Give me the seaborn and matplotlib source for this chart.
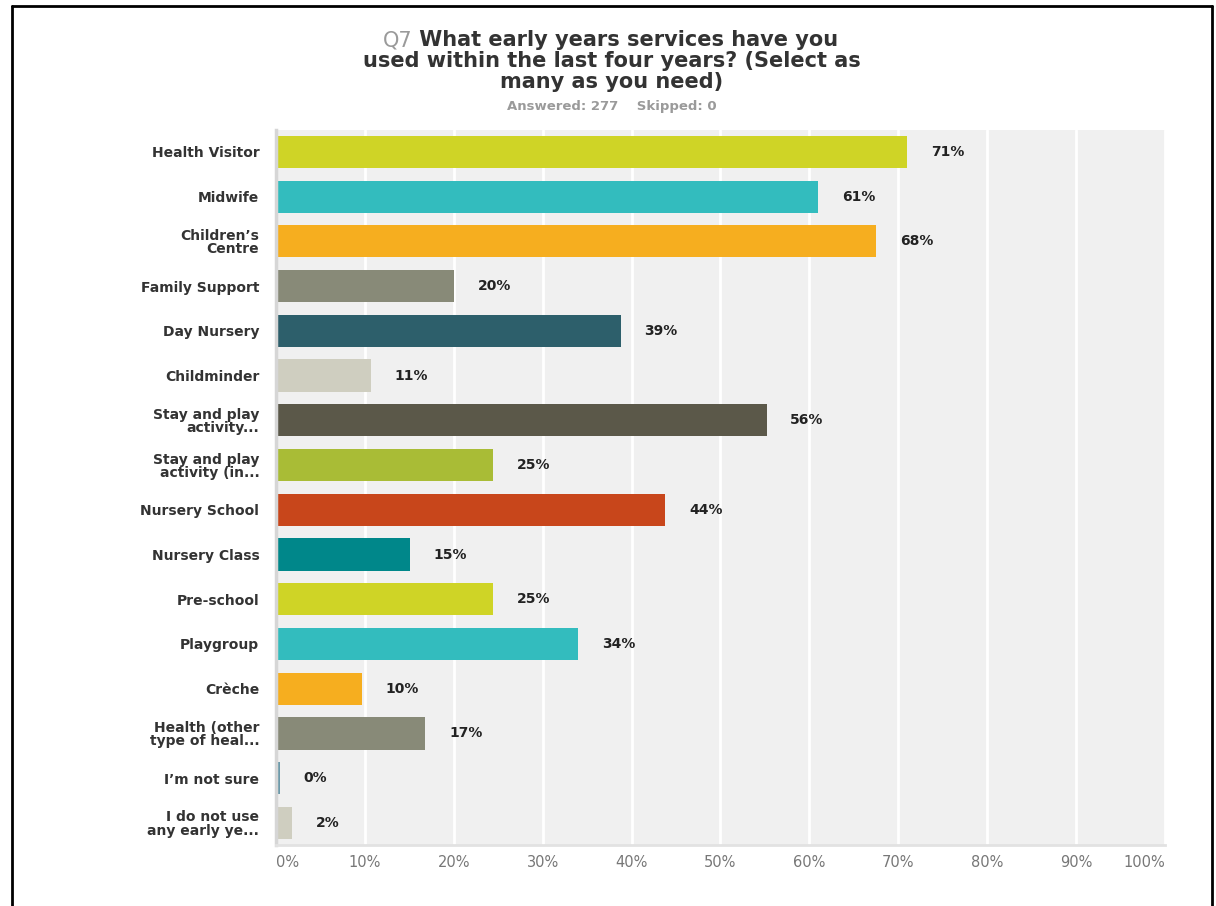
import matplotlib
matplotlib.use("Agg")
import matplotlib.pyplot as plt
import seaborn as sns
import pandas as pd
from matplotlib.lines import Line2D

# datos
categories = [
    "Health Visitor", "Midwife", "Children’s\nCentre", "Family Support",
    "Day Nursery", "Childminder", "Stay and play\nactivity...",
    "Stay and play\nactivity (in...", "Nursery School", "Nursery Class",
    "Pre-school", "Playgroup", "Crèche", "Health (other\ntype of heal...",
    "I’m not sure", "I do not use\nany early ye...",
]
values = [71.0, 61.0, 67.5, 20.0, 38.8, 10.7, 55.2, 24.4,
          43.8, 15.1, 24.4, 34.0, 9.7, 16.8, 0.4, 1.8]
value_labels = ["71%", "61%", "68%", "20%", "39%", "11%", "56%", "25%",
                "44%", "15%", "25%", "34%", "10%", "17%", "0%", "2%"]
colors = ["#CFD426", "#33BCBE", "#F6AE1F", "#888A78", "#2D5F6B", "#CFCEC0",
          "#5B5849", "#A9BC36", "#C8461B", "#00878A", "#CFD426", "#33BCBE",
          "#F6AE1F", "#888A78", "#6D9AAA", "#CFCEC0"]
x_ticks = [0, 10, 20, 30, 40, 50, 60, 70, 80, 90, 100]
x_tick_labels = ["0%", "10%", "20%", "30%", "40%", "50%", "60%", "70%",
                 "80%", "90%", "100%"]

sns.set_style("white")
plt.rcParams["font.family"] = ["DejaVu Sans"]

df = pd.DataFrame({"servicio": categories, "pct": values})

fig = plt.figure(figsize=(12.16, 9.06), dpi=100, facecolor="white")
ax = fig.add_axes([0.227, 0.067, 0.731, 0.79])
ax.set_facecolor("#F0F0F0")

sns.barplot(data=df, x="pct", y="servicio", hue="servicio",
            palette=colors, legend=False, orient="h", width=0.72,
            saturation=1, linewidth=0, ax=ax)

ax.set_xlim(0, 100)
ax.set_ylim(len(categories) - 0.5, -0.5)
ax.set_axisbelow(True)
ax.xaxis.grid(True, color="white", linewidth=2)
ax.yaxis.grid(False)

ax.set_xticks(x_ticks)
ax.set_xticklabels(x_tick_labels, fontsize=10.5, color="#777777")
tl = ax.get_xticklabels()
tl[0].set_ha("left")
tl[-1].set_ha("right")
ax.tick_params(axis="x", length=0, pad=7)
ax.tick_params(axis="y", length=0, pad=12)
for lab in ax.get_yticklabels():
    lab.set_fontsize(10)
    lab.set_fontweight("bold")
    lab.set_color("#333333")
    lab.set_linespacing(0.95)
ax.set_xlabel("")
ax.set_ylabel("")

for s in ["top", "right"]:
    ax.spines[s].set_visible(False)
ax.spines["left"].set_color("#D6D6D6")
ax.spines["left"].set_linewidth(2.5)
ax.spines["bottom"].set_color("#E2E2E2")
ax.spines["bottom"].set_linewidth(2)

for i, (v, lab) in enumerate(zip(values, value_labels)):
    ax.annotate(lab, xy=(v, i), xytext=(17, 0), textcoords="offset points",
                ha="left", va="center", fontsize=10, fontweight="bold",
                color="#222222")

# titulo con "Q7" en gris
cx = 0.503
fs = 15
y1, y2, y3 = 0.9492, 0.926, 0.9029
line1 = "Q7 What early years services have you"
renderer = fig.canvas.get_renderer()
full = fig.text(cx, y1, line1, ha="center", va="baseline", fontsize=fs,
                fontweight="bold")
bb = full.get_window_extent(renderer)
full.remove()
x0 = bb.x0 / fig.bbox.width
q7 = fig.text(x0, y1, "Q7", ha="left", va="baseline", fontsize=fs,
              color="#9A9A9A")
bq = q7.get_window_extent(renderer)
fig.text(bq.x1 / fig.bbox.width, y1, " What early years services have you",
         ha="left", va="baseline", fontsize=fs, fontweight="bold",
         color="#333333")
fig.text(cx, y2, "used within the last four years? (Select as",
         ha="center", va="baseline", fontsize=fs, fontweight="bold",
         color="#333333")
fig.text(cx, y3, "many as you need)", ha="center", va="baseline",
         fontsize=fs, fontweight="bold", color="#333333")
fig.text(cx, 0.883, "Answered: 277    Skipped: 0", ha="center", va="center",
         fontsize=9.5, fontweight="bold", color="#9A9A9A")

# marco negro
for xs, ys in [((0.0099, 0.0099), (0.0, 0.9934)),
               ((0.0099, 0.9967), (0.9934, 0.9934)),
               ((0.9967, 0.9967), (0.0, 0.9934))]:
    fig.add_artist(Line2D(xs, ys, color="black", linewidth=2,
                          transform=fig.transFigure))

fig.savefig("out.png", dpi=100, facecolor="white")
